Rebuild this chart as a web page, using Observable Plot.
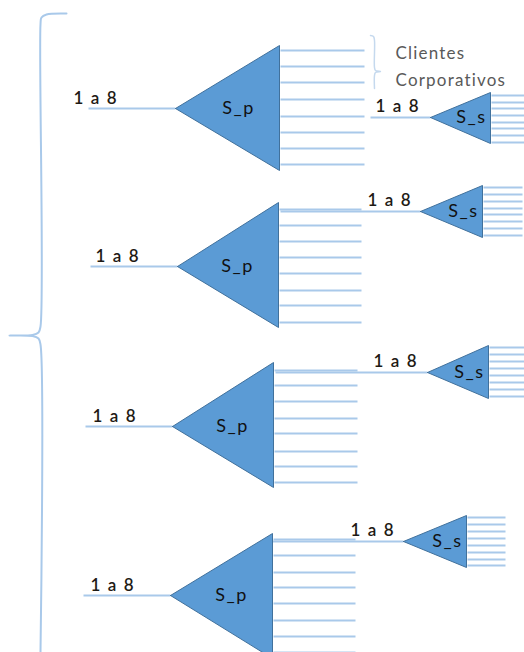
<!DOCTYPE html>
<html>
<head>
<meta charset="utf-8">
<script src="https://cdn.jsdelivr.net/npm/d3@7"></script>
<script src="https://cdn.jsdelivr.net/npm/@observablehq/plot@0.6"></script>
<style>
  html, body { margin: 0; padding: 0; background: #fff; }
  #chart svg { display: block; }
</style>
</head>
<body>
<div id="chart"></div>
<script>
// ---- diagram data (in pixel-space units) ----
const groups = ["G1", "G2", "G3", "G4"];
// primary splitter S_p: apex (x,y), base x, base top / bottom
const spApexX = [175, 177, 172, 170];
const spApexY = [108, 266, 426, 595];
const spBaseX = [279, 278, 273, 272];
const spTop = [45, 202, 362, 533];
const spBottom = [170, 327, 487, 658];
const spInputStart = [88, 90, 85, 83];
const spOutEnd = [364, 361, 357, 355];
const spOutY = [
  [50, 66, 82, 99, 116, 132, 148, 164],
  [209, 225, 241, 257, 273, 290, 305, 322],
  [370, 385, 401, 418, 433, 451, 466, 482],
  [539, 555, 572, 587, 603, 620, 636, 652]
];
const spLabelX = [73, 95, 92, 90];
// secondary splitter S_s
const ssApexX = [430, 420, 427, 403];
const ssApexY = [117, 211, 372, 541];
const ssBaseX = [490, 482, 488, 466];
const ssTop = [92, 185, 345, 515];
const ssBottom = [143, 237, 398, 567];
const ssInputStart = [370, 280, 275, 272];
const ssOutEnd = [530, 522, 530, 505];
const ssOutY = [
  [95, 102, 108, 115, 122, 128, 135, 142],
  [187, 194, 201, 208, 214, 221, 228, 235],
  [347, 354, 361, 368, 375, 382, 389, 396],
  [517, 524, 531, 538, 545, 552, 559, 565]
];
const ssLabelX = [375, 367, 373, 350];
const inLabel = "1 a 8";
const spLabel = "S_p";
const ssLabel = "S_s";
const legendLines = ["Clientes", "Corporativos"];

// ---- build tables ----
const tri = [];
const segs = [];
const labels = [];
groups.forEach((g, i) => {
  [[spApexX[i], spApexY[i]], [spBaseX[i], spTop[i]], [spBaseX[i], spBottom[i]], [spApexX[i], spApexY[i]]]
    .forEach(([x, y], k) => tri.push({id: g + "p", x, y, k}));
  [[ssApexX[i], ssApexY[i]], [ssBaseX[i], ssTop[i]], [ssBaseX[i], ssBottom[i]], [ssApexX[i], ssApexY[i]]]
    .forEach(([x, y], k) => tri.push({id: g + "s", x, y, k}));
  segs.push({x1: spInputStart[i], y1: spApexY[i], x2: spApexX[i], y2: spApexY[i]});
  spOutY[i].forEach(y => segs.push({x1: spBaseX[i] + 1, y1: y, x2: spOutEnd[i], y2: y}));
  segs.push({x1: ssInputStart[i], y1: ssApexY[i], x2: ssApexX[i], y2: ssApexY[i]});
  ssOutY[i].forEach(y => segs.push({x1: ssBaseX[i] + 1, y1: y, x2: ssOutEnd[i], y2: y}));
  labels.push({x: spLabelX[i], y: spApexY[i] - 5, t: inLabel, kind: "in"});
  labels.push({x: ssLabelX[i], y: ssApexY[i] - 6, t: inLabel, kind: "in"});
  labels.push({x: spBaseX[i] - 41, y: spApexY[i], t: spLabel, kind: "sp"});
  labels.push({x: ssBaseX[i] - 19, y: ssApexY[i], t: ssLabel, kind: "ss"});
});

// big left brace
const brace = [
  {x: 66, y: 13}, {x: 46, y: 14}, {x: 41, y: 17}, {x: 40, y: 24},
  {x: 40, y: 326}, {x: 38, y: 332}, {x: 32, y: 334.5}, {x: 9, y: 335},
  {x: 32, y: 335.5}, {x: 38, y: 338}, {x: 40, y: 344}, {x: 40, y: 652}
];
// small legend brace
const smallBrace = [
  {x: 370, y: 35}, {x: 373, y: 36}, {x: 374, y: 40}, {x: 374, y: 67},
  {x: 375, y: 70}, {x: 380, y: 71}, {x: 375, y: 72}, {x: 374, y: 75}, {x: 374, y: 88}
];
const legend = legendLines.map((t, i) => ({x: 395, y: 53 + i * 27, t}));

const lineColor = "#a9c9ea";
const fillColor = "#5b9bd5";
const edgeColor = "#41719c";
const font = "Lato, 'Open Sans', sans-serif";

const chart = Plot.plot({
  width: 524,
  height: 652,
  margin: 0,
  x: {domain: [0, 524], range: [0, 524], axis: null},
  y: {domain: [0, 652], range: [0, 652], axis: null},
  style: {fontFamily: font, background: "#fff"},
  marks: [
    Plot.link(segs, {x1: "x1", y1: "y1", x2: "x2", y2: "y2", stroke: lineColor, strokeWidth: 1.8}),
    Plot.line(tri, {x: "x", y: "y", z: "id", fill: fillColor, stroke: edgeColor, strokeWidth: 1, strokeLinejoin: "miter"}),
    Plot.line(brace, {x: "x", y: "y", stroke: lineColor, strokeWidth: 2, curve: "catmull-rom"}),
    Plot.line(smallBrace, {x: "x", y: "y", stroke: "#c5d9ee", strokeWidth: 1.5, curve: "catmull-rom"}),
    Plot.text(labels.filter(d => d.kind === "in"), {x: "x", y: "y", text: "t", textAnchor: "start", lineAnchor: "bottom", fontSize: 17, fill: "#1e1a14", fontWeight: 600, className: "inlabel"}),
    Plot.text(labels.filter(d => d.kind !== "in"), {x: "x", y: "y", text: "t", textAnchor: "middle", lineAnchor: "middle", fontSize: 18, fill: "#111", className: "splabel"}),
    Plot.text(legend, {x: "x", y: "y", text: "t", textAnchor: "start", lineAnchor: "middle", fontSize: 17, fill: "#595959", className: "legend"})
  ]
});
document.getElementById("chart").appendChild(chart);
// letter spacing to mimic the wider original typeface
d3.select(chart).selectAll("text").each(function() {
  const t = this.textContent;
  if (t === inLabel) this.setAttribute("letter-spacing", "1.6");
  else if (t === spLabel || t === ssLabel) this.setAttribute("letter-spacing", "1.5");
  else if (legendLines.includes(t)) this.setAttribute("letter-spacing", "1.2");
});
</script>
</body>
</html>
